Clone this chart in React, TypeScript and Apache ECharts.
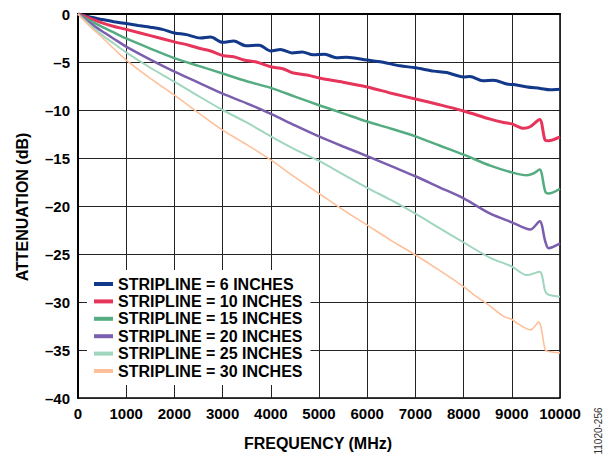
import React, { useEffect, useRef } from "react";
import * as echarts from "echarts";

const seriesNames = [
  "STRIPLINE = 6 INCHES",
  "STRIPLINE = 10 INCHES",
  "STRIPLINE = 15 INCHES",
  "STRIPLINE = 20 INCHES",
  "STRIPLINE = 25 INCHES",
  "STRIPLINE = 30 INCHES",
];

const freq6 = [0, 250, 500, 750, 1000, 1250, 1500, 1750, 2000, 2250, 2540, 2750, 3000, 3230, 3480, 3760, 4000, 4200, 4440, 4650, 4880, 5120, 5360, 5570, 6000, 6300, 6680, 7000, 7380, 7650, 8000, 8130, 8400, 8620, 8900, 9040, 9320, 9590, 9800, 10000];
const att6 = [0, -0.3, -0.58, -0.8, -1.0, -1.2, -1.38, -1.6, -1.97, -2.15, -2.5, -2.4, -2.95, -2.82, -3.3, -3.25, -3.85, -3.7, -4.05, -3.95, -4.25, -4.2, -4.55, -4.5, -4.8, -5.0, -5.4, -5.6, -5.95, -6.1, -6.55, -6.5, -6.95, -6.9, -7.3, -7.35, -7.6, -7.75, -7.9, -7.85];

const freq10 = [0, 250, 500, 750, 1000, 1500, 2000, 2300, 2540, 2750, 3020, 3230, 3440, 3700, 4000, 4250, 4470, 4750, 5030, 5500, 6000, 6500, 7000, 7500, 8000, 8554, 8830, 9000, 9245, 9380, 9577, 9695, 9764, 10000];
const att10 = [0, -0.45, -0.93, -1.3, -1.6, -2.25, -2.9, -3.25, -3.6, -3.85, -4.35, -4.45, -4.8, -5.0, -5.5, -5.7, -6.15, -6.35, -6.7, -7.1, -7.6, -8.25, -8.85, -9.45, -10.1, -10.95, -11.3, -11.45, -11.9, -11.75, -11.0, -13.15, -13.2, -12.8];

const freq15 = [0, 250, 500, 750, 1000, 1500, 2000, 2500, 3000, 3500, 4000, 4500, 5000, 5500, 6000, 6500, 7000, 7500, 8000, 8554, 9000, 9314, 9452, 9577, 9695, 9764, 10000];
const att15 = [0, -0.7, -1.35, -1.95, -2.55, -3.6, -4.6, -5.4, -6.2, -7.0, -7.7, -8.6, -9.5, -10.35, -11.2, -11.95, -12.75, -13.7, -14.65, -15.8, -16.5, -16.8, -16.6, -16.2, -18.5, -18.7, -18.2];

const freq20 = [0, 250, 500, 750, 1000, 1500, 2000, 2500, 3000, 3500, 4000, 4500, 5000, 5500, 6000, 6500, 7000, 7500, 8000, 8554, 9000, 9383, 9577, 9695, 9764, 10000];
const att20 = [0, -0.95, -1.8, -2.6, -3.4, -4.75, -6.0, -7.15, -8.3, -9.3, -10.4, -11.6, -12.75, -13.8, -14.8, -15.85, -16.9, -18.05, -19.2, -20.8, -21.7, -22.45, -21.6, -23.7, -24.4, -23.9];

const freq25 = [0, 250, 500, 750, 1000, 1500, 2000, 2500, 3000, 3500, 4000, 4500, 5000, 5500, 6000, 6500, 7000, 7500, 8000, 8554, 9000, 9314, 9577, 9695, 9764, 10000];
const att25 = [0, -1.15, -2.2, -3.1, -4.0, -5.6, -7.05, -8.55, -10.0, -11.3, -12.75, -14.1, -15.3, -16.7, -18.1, -19.4, -20.8, -22.3, -23.8, -25.4, -26.3, -27.2, -26.85, -28.9, -29.25, -29.45];

const freq30 = [0, 250, 500, 750, 1000, 1500, 2000, 2500, 3000, 3500, 4000, 4500, 5000, 5500, 6000, 6500, 7000, 7500, 8000, 8200, 8554, 8830, 9000, 9107, 9383, 9555, 9695, 9764, 10000];
const att30 = [0, -1.3, -2.45, -3.65, -4.8, -6.7, -8.45, -10.3, -12.1, -13.6, -15.2, -17.0, -18.7, -20.4, -22.0, -23.6, -25.1, -26.7, -28.4, -29.2, -30.45, -31.5, -31.8, -32.2, -32.9, -32.1, -35.0, -35.15, -35.3];

const freqs = [freq6, freq10, freq15, freq20, freq25, freq30];
const atts = [att6, att10, att15, att20, att25, att30];

const colors = ["#12388a", "#e6345a", "#55ac80", "#7b5fae", "#9fd6bd", "#ffbf99"];
const widths = [3, 3, 2.5, 2.5, 2, 1.6];

const FONT = "Liberation Sans, Arial, Helvetica, sans-serif";

export default function App() {
  const ref = useRef<HTMLDivElement>(null);
  useEffect(() => {
    if (!ref.current) return;
    const chart = echarts.init(ref.current, undefined, { renderer: "svg" });
    const series = seriesNames.map((name, i) => ({
      name,
      type: "line",
      data: freqs[i].map((f, j) => [f, atts[i][j]]),
      showSymbol: false,
      smooth: 0.3,
      lineStyle: { color: colors[i], width: widths[i] },
      itemStyle: { color: colors[i] },
      z: 3,
    }));
    chart.setOption({
      animation: false,
      backgroundColor: "#fff",
      grid: {
        left: 78,
        right: 48,
        top: 14,
        bottom: 56,
        show: true,
        borderColor: "#000",
        borderWidth: 1.5,
      },
      legend: {
        data: seriesNames,
        orient: "vertical",
        left: 87,
        top: 270,
        padding: [6, 8, 6, 7],
        backgroundColor: "#fff",
        icon: "rect",
        itemWidth: 19,
        itemHeight: 4,
        itemGap: 1.4,
        itemStyle: { borderWidth: 0 },
        textStyle: {
          fontFamily: FONT,
          fontWeight: "bold",
          fontSize: 16,
          lineHeight: 16,
          color: "#000",
        },
        z: 10,
      },
      xAxis: {
        type: "value",
        min: 0,
        max: 10000,
        interval: 1000,
        axisLine: { show: true, lineStyle: { color: "#000", width: 2 } },
        axisTick: { show: false },
        axisLabel: {
          color: "#000",
          fontFamily: FONT,
          fontWeight: "bold",
          fontSize: 15,
          margin: 8,
          formatter: (v: number) => String(v),
        },
        splitLine: { show: true, lineStyle: { color: "#222", width: 1 } },
      },
      yAxis: {
        type: "value",
        min: -40,
        max: 0,
        interval: 5,
        axisLine: { show: true, lineStyle: { color: "#000", width: 2 } },
        axisTick: { show: false },
        axisLabel: {
          color: "#000",
          fontFamily: FONT,
          fontWeight: "bold",
          fontSize: 15,
          margin: 8,
          formatter: (v: number) => (v === 0 ? "0" : "\u2013" + Math.abs(v)),
        },
        splitLine: { show: true, lineStyle: { color: "#222", width: 1 } },
      },
      graphic: [
        {
          type: "text",
          x: 318,
          y: 443,
          style: {
            text: "FREQUENCY (MHz)",
            align: "center",
            verticalAlign: "middle",
            font: `bold 16px ${FONT}`,
            fill: "#000",
          },
        },
        {
          type: "text",
          x: 22,
          y: 207,
          rotation: Math.PI / 2,
          style: {
            text: "ATTENUATION (dB)",
            align: "center",
            verticalAlign: "middle",
            font: `bold 16px ${FONT}`,
            fill: "#000",
          },
        },
        {
          type: "text",
          x: 598,
          y: 431,
          rotation: Math.PI / 2,
          style: {
            text: "11020-256",
            align: "center",
            verticalAlign: "middle",
            font: `10px ${FONT}`,
            fill: "#333",
          },
        },
      ],
      series,
    });
    return () => chart.dispose();
  }, []);
  return <div ref={ref} style={{ width: 608, height: 454, position: "absolute", left: 0, top: 0 }} />;
}
